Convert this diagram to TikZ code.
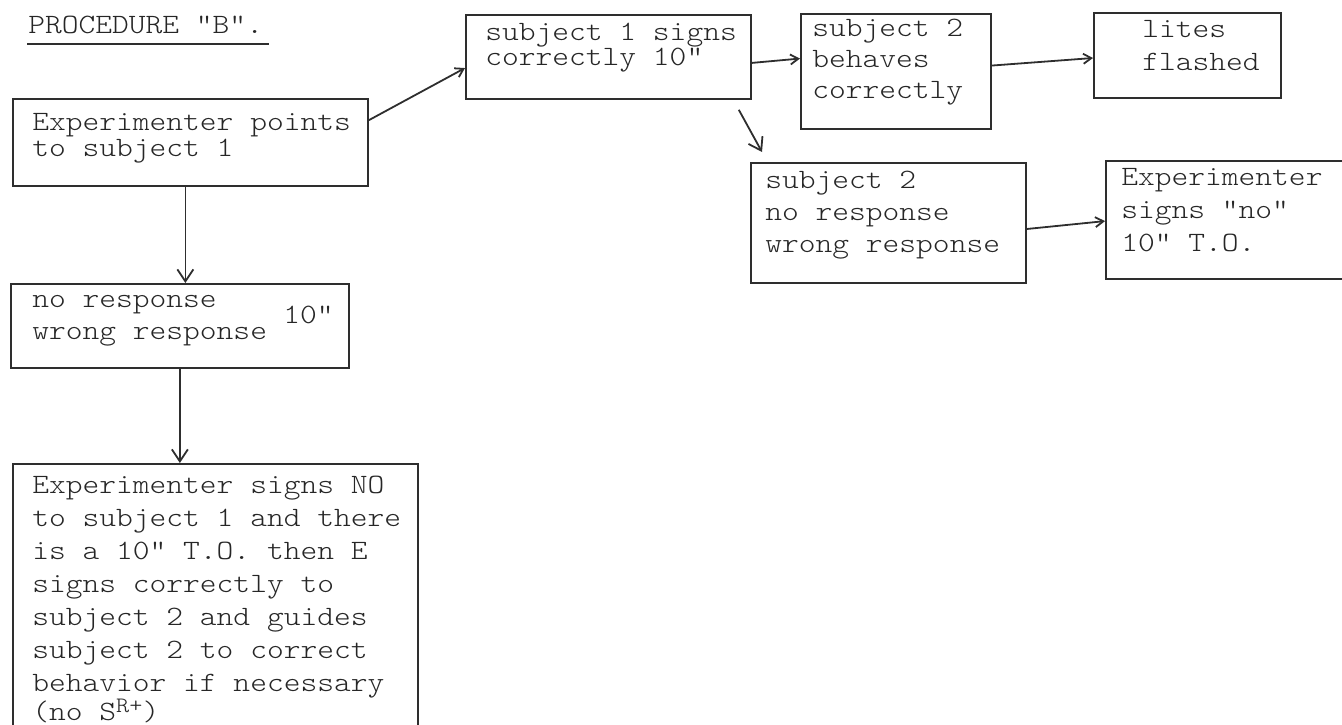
\documentclass[tikz,border=0pt]{standalone}
\usepackage{fontspec}
\newfontfamily\tw{lmmonolt10-regular.otf}[FakeStretch=1.14]
\usetikzlibrary{arrows.meta,calc}

% typed block: first argument is the line spacing
\newcommand\typedlines[2]{{\fontsize{14}{#1}\selectfont\begin{tabular}[t]{@{}l@{}}#2\end{tabular}}}

\tikzset{
  ink/.style={draw=black!82, line width=0.9pt},
  stepbox/.style={ink, inner sep=0pt, anchor=north west},
  typed/.style={inner sep=0pt, anchor=base west, text=black!85,
                font=\tw\fontsize{14}{16.5}\selectfont},
  flow/.style={ink, -{Straight Barb[length=6pt,width=8pt,line width=0.9pt]}},
  smallflow/.style={ink, -{Straight Barb[length=4pt,width=5pt,line width=0.9pt]}}
}

\begin{document}
\begin{tikzpicture}[x=0.5pt, y=-0.5pt]
\useasboundingbox (0,0) rectangle (1342,724);
\clip (0,0) rectangle (1342,724);

% heading
\node[typed] (title) at (28,33) {PROCEDURE "B".};
\draw[ink] ($(title.base west)+(-1,11)$) -- ($(title.base east)+(6,11)$);

% frames
\node[stepbox, minimum width=177.5pt, minimum height=43.5pt] (a) at (12,98) {};
\node[stepbox, minimum width=142.5pt, minimum height=42pt]   (b) at (465,14) {};
\node[stepbox, minimum width=95pt,    minimum height=57.5pt] (c) at (800,13) {};
\node[stepbox, minimum width=93.5pt,  minimum height=42.5pt] (d) at (1093,12) {};
\node[stepbox, minimum width=137.5pt, minimum height=60pt]   (e) at (750,162) {};
\node[stepbox, minimum width=147.5pt, minimum height=59pt]   (f) at (1105,160) {};
\node[stepbox, minimum width=169pt,   minimum height=42pt]   (g) at (10,283) {};
\node[stepbox, minimum width=202.5pt, minimum height=148.5pt] (h) at (12,463) {};

% typed texts
\node[typed] (a-text) at (32,130) {\typedlines{13pt}{Experimenter points\\to subject 1}};
\node[typed] (b-text) at (485,40) {\typedlines{12.5pt}{subject 1 signs\\correctly 10"}};
\node[typed] (c-text) at (812,36) {\typedlines{15.5pt}{subject 2\\behaves\\correctly}};
\node[typed] (d-text) at (1142,37) {\typedlines{16.5pt}{lites\\flashed}};
\node[typed] (e-text) at (765,188) {\typedlines{16pt}{subject 2\\no response\\wrong response}};
\node[typed] (f-text) at (1121,185) {\typedlines{16.5pt}{Experimenter\\signs "no"\\10" T.O.}};
\node[typed] (g-text) at (32,307) {\typedlines{16pt}{no response\\wrong response}};
\node[typed] (g-time) at (283,323) {10"};
\node[typed] (h-text) at (32,493) {\typedlines{16.5pt}{Experimenter signs NO\\to subject 1 and there\\is a 10" T.O. then E\\signs correctly to\\subject 2 and guides\\subject 2 to correct\\behavior if necessary\\[-2pt](no S\raisebox{4pt}{\fontsize{11}{11}\selectfont R+})}};

% connectors
\draw[smallflow] ($(a.north east)!0.25!(a.south east)$) -- ($(b.north west)!0.63!(b.south west)$);
\draw[smallflow] ($(b.north east)!0.57!(b.south east)$) -- ($(c.north west)!0.39!(c.south west)$);
\draw[smallflow] ($(c.north east)!0.45!(c.south east)$) -- ($(d.north west)!0.53!(d.south west)$);
\draw[flow] ($(b.south east)+(-13,10)$) -- ($(e.north west)+(12,-10)$);
\draw[smallflow] ($(e.north east)!0.55!(e.south east)$) -- ($(f.north west)!0.51!(f.south west)$);
\draw[flow] ($(a.south west)!0.486!(a.south east)$) coordinate (ag) -- (ag |- g.north);
\draw[flow] (g.south) -- (g.south |- h.north);
\end{tikzpicture}
\end{document}
